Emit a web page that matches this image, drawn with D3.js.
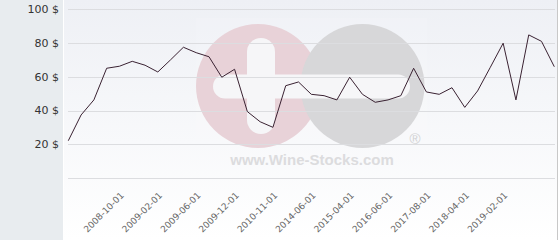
<!DOCTYPE html>
<html>
<head>
<meta charset="utf-8">
<script src="https://cdn.jsdelivr.net/npm/d3@7"></script>
<style>
html,body{margin:0;padding:0;background:#fff;}
svg{display:block;}
</style>
</head>
<body>
<svg id="chart" width="560" height="240"></svg>
<script>
// ---- data ----
const prices = [22.2, 37.4, 46.3, 65.0, 66.2, 69.1, 66.8, 62.8, 70.0, 77.4,
                74.2, 71.8, 59.7, 64.4, 39.4, 33.4, 30.1, 54.7, 56.9, 49.6,
                48.8, 46.3, 59.7, 49.6, 44.9, 46.3, 48.8, 65.0, 51.0, 49.6,
                53.5, 41.9, 51.6, 65.6, 79.8, 46.3, 84.7, 80.9, 65.9];
const tickLabels = ["2008-10-01", "2009-02-01", "2009-06-01", "2009-12-01", "2010-11-01",
                    "2014-06-01", "2015-04-01", "2016-06-01", "2017-08-01", "2018-04-01", "2019-02-01"];
const tickIndices = [4, 7, 10, 13, 16, 19, 22, 25, 28, 31, 34];
const yTicks = [0, 20, 40, 60, 80, 100];
const watermarkText = "www.Wine-Stocks.com";

// ---- drawing ----
const svg = d3.select("#chart");
const W = 560, H = 240;
const plotLeft = 68, plotRight = 555;

const defs = svg.append("defs");
const grad = defs.append("linearGradient").attr("id", "bg").attr("x1", 0).attr("y1", 0).attr("x2", 0).attr("y2", 1);
grad.append("stop").attr("offset", "0%").attr("stop-color", "#eef0f5");
grad.append("stop").attr("offset", "100%").attr("stop-color", "#ffffff");

// left panel
svg.append("rect").attr("x", 0).attr("y", 0).attr("width", 63).attr("height", H).attr("fill", "#e8ecef");
// plot panel
svg.append("rect").attr("x", 64).attr("y", 0).attr("width", 493).attr("height", H).attr("fill", "url(#bg)");
svg.append("line").attr("x1", 557.5).attr("x2", 557.5).attr("y1", 0).attr("y2", H).attr("stroke", "#c8c8c8");

const x = d3.scalePoint().domain(d3.range(prices.length)).range([68.3, 554.3]);
const y = d3.scaleLinear().domain([0, 100]).range([178.3, 9]);

// watermark
const wm = svg.append("g");
wm.append("rect").attr("x", 196).attr("y", 18).attr("width", 231).attr("height", 157).attr("fill", "#ffffff").attr("opacity", 0.12);
wm.append("circle").attr("cx", 258).attr("cy", 86).attr("r", 62).attr("fill", "#e8d2d8");
wm.append("circle").attr("cx", 362.5).attr("cy", 86).attr("r", 62).attr("fill", "#d7d7d9");
wm.append("rect").attr("x", 213).attr("y", 74.5).attr("width", 197).attr("height", 24).attr("rx", 12).attr("fill", "#f6f6f8");
wm.append("rect").attr("x", 247).attr("y", 38).attr("width", 28).attr("height", 96).attr("rx", 14).attr("fill", "#f6f6f8");
wm.append("text").attr("x", 415).attr("y", 144).attr("text-anchor", "middle")
  .attr("font-family", "Liberation Sans, Arial, sans-serif").attr("font-size", 15)
  .attr("fill", "#d2d2d4").text("®");
wm.append("text").attr("x", 312).attr("y", 165).attr("text-anchor", "middle")
  .attr("font-family", "Liberation Sans, Arial, sans-serif").attr("font-weight", "bold").attr("font-size", 15)
  .attr("fill", "#dcdcde").text(watermarkText);

// gridlines
svg.append("g").selectAll("line").data(yTicks).join("line")
  .attr("x1", plotLeft).attr("x2", plotRight)
  .attr("y1", d => Math.round(y(d)) + 0.5).attr("y2", d => Math.round(y(d)) + 0.5)
  .attr("stroke", "#dcdde0").attr("stroke-width", 1);

// y labels
svg.append("g").selectAll("text").data(yTicks.filter(d => d > 0)).join("text")
  .attr("x", 59).attr("y", d => y(d)).attr("dy", "0.35em").attr("text-anchor", "end")
  .attr("font-family", "DejaVu Sans, sans-serif").attr("font-size", 11).attr("fill", "#333")
  .text(d => d + " $");

// x labels
svg.append("g").selectAll("text").data(tickIndices).join("text")
  .attr("text-anchor", "end")
  .attr("transform", d => `translate(${x(d) + 5},${196}) rotate(-45)`)
  .attr("font-family", "DejaVu Sans, sans-serif").attr("font-size", 9).attr("fill", "#666")
  .text((d, i) => tickLabels[i]);

// line
const line = d3.line().x((d, i) => x(i)).y(d => y(d));
svg.append("path").datum(prices).attr("d", line)
  .attr("fill", "none").attr("stroke", "#3a2232").attr("stroke-width", 1).attr("stroke-linejoin", "round");
</script>
</body>
</html>
